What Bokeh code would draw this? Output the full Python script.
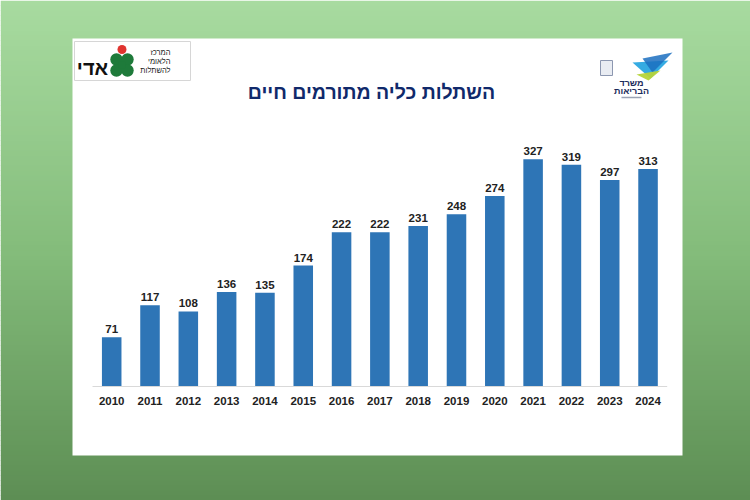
from bokeh.plotting import figure
from bokeh.models import Range1d
from bokeh.embed import file_html
from bokeh.resources import INLINE
from bokeh.core.properties import value

# ---- data ----
years = [2010, 2011, 2012, 2013, 2014, 2015, 2016, 2017, 2018, 2019, 2020, 2021, 2022, 2023, 2024]
counts = [71, 117, 108, 136, 135, 174, 222, 222, 231, 248, 274, 327, 319, 297, 313]
year_labels = [str(y) for y in years]
count_labels = [str(c) for c in counts]
title_text = "השתלות כליה מתורמים חיים"
adi_lines = ["המרכז", "הלאומי", "להשתלות"]
moh_lines = ["משרד", "הבריאות"]

W, H = 750, 500
FONT = value("Liberation Sans")

# pixel-like decoration ranges (y flipped so y grows downward)
p = figure(width=W, height=H, x_range=Range1d(0, W), y_range=Range1d(H, 0),
           output_backend="svg", toolbar_location=None, min_border=0,
           border_fill_color=None, outline_line_color=None)
p.axis.visible = False
p.grid.visible = False

# data ranges: year spacing and count scale in screen px
x_px0, spacing = 111.2, 38.31
y_px0, scale = 386.0, 0.695
x_start = years[0] - x_px0 / spacing
p.extra_x_ranges = {"yr": Range1d(x_start, x_start + W / spacing)}
p.extra_y_ranges = {"n": Range1d(-(H - y_px0) / scale, y_px0 / scale)}

# background gradient
top_c = (168, 219, 160)
mid_c = (132, 188, 123)
bot_c = (93, 142, 84)
N = 100
lefts, rights, tops, bottoms, cols = [], [], [], [], []
for i in range(N):
    t = (i + 0.5) / N
    if t < 0.5:
        a, b, u = top_c, mid_c, t / 0.5
    else:
        a, b, u = mid_c, bot_c, (t - 0.5) / 0.5
    c = tuple(int(round(a[k] + (b[k] - a[k]) * u)) for k in range(3))
    lefts.append(0); rights.append(W)
    tops.append(H * i / N); bottoms.append(H * (i + 1) / N + 0.5)
    cols.append("#%02x%02x%02x" % c)
p.quad(left=lefts, right=rights, top=tops, bottom=bottoms, fill_color=cols, line_color=None)

# white slide
p.quad(left=72, right=682, top=38, bottom=455, fill_color="white", line_color=None)

# title
p.text(x=[371], y=[91], text=[title_text], text_align="center", text_baseline="middle",
       text_font=FONT, text_font_size="19.5px", text_font_style="bold", text_color="#10296b")

# ---- left logo (ADI) ----
p.quad(left=74, right=190, top=41, bottom=80, fill_color="white", line_color="#d6d6d6", line_width=1)
p.text(x=[92], y=[67], text=["אדי"], text_align="center", text_baseline="middle",
       text_font=FONT, text_font_size="20px", text_font_style="bold", text_color="#111111")
p.circle(x=[116, 127, 116, 127], y=[59, 59, 70, 70], radius=6.2, fill_color="#1e7a3a", line_color=None)
p.circle(x=[121.5], y=[64.5], radius=4, fill_color="#1e7a3a", line_color=None)
p.circle(x=[121.5], y=[49], radius=4.5, fill_color="#e0342f", line_color=None)
p.text(x=[170, 170, 170], y=[52, 61, 70], text=adi_lines, text_align="right", text_baseline="middle",
       text_font=FONT, text_font_size="7.5px", text_color="#222222")

# ---- right logo (Ministry of Health) ----
p.quad(left=600, right=612, top=60, bottom=75, fill_color="#e9ecf2", line_color="#8c97b0", line_width=1)
p.patches(xs=[[632, 668, 650], [642, 672, 652], [636, 660, 648]],
          ys=[[62, 60, 78], [58, 52, 72], [74, 70, 80]],
          fill_color=["#2aa6e0", "#1b6fc0", "#b6d43a"], fill_alpha=[0.95, 0.85, 0.95], line_color=None)
p.text(x=[631, 631], y=[82, 90], text=moh_lines, text_align="center", text_baseline="middle",
       text_font=FONT, text_font_size="9px", text_font_style="bold", text_color="#1a2a5a")
p.segment(x0=[621], x1=[641], y0=[97], y1=[97], line_color="#9aa3b5", line_width=1.5)

# ---- chart ----
p.vbar(x=years, top=counts, bottom=0, width=0.51, x_range_name="yr", y_range_name="n",
       fill_color="#2e75b6", line_color=None)
p.segment(x0=[years[0] - 0.5], x1=[years[-1] + 0.5], y0=[0], y1=[0],
          x_range_name="yr", y_range_name="n", line_color="#d9d9d9", line_width=1)
p.text(x=years, y=counts, text=count_labels, x_range_name="yr", y_range_name="n",
       text_align="center", text_baseline="bottom", y_offset=-4,
       text_font=FONT, text_font_size="11.5px", text_font_style="bold", text_color="#222222")
p.text(x=years, y=[0] * len(years), text=year_labels, x_range_name="yr", y_range_name="n",
       text_align="center", text_baseline="middle", y_offset=14,
       text_font=FONT, text_font_size="11.5px", text_font_style="bold", text_color="#222222")

open("out.html", "w").write(file_html(p, INLINE))
